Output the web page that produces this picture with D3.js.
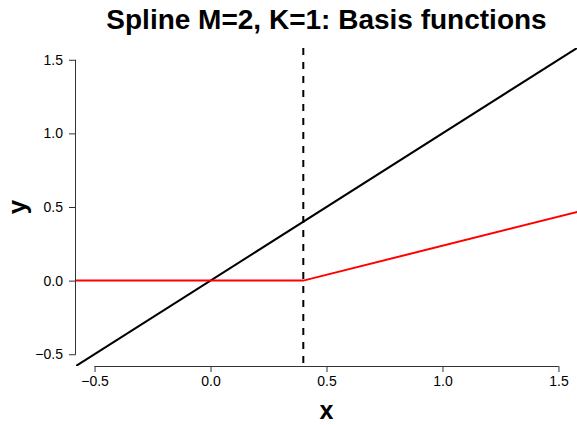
<!DOCTYPE html>
<html>
<head>
<meta charset="utf-8">
<script src="https://cdn.jsdelivr.net/npm/d3@7"></script>
<style>
  html, body { margin: 0; padding: 0; background: #fff; }
  svg { display: block; font-family: "Liberation Sans", Arial, Helvetica, sans-serif; }
</style>
</head>
<body>
<svg id="chart" width="577" height="425"></svg>
<script>
// ---- data ----
const titleText = "Spline M=2, K=1: Basis functions";
const xLabel = "x";
const yLabel = "y";
const knot = 0.4;
const xTicks = [-0.5, 0, 0.5, 1.0, 1.5];
const yTicks = [-0.5, 0, 0.5, 1.0, 1.5];
const blackX = [-0.6, 1.6];
const blackY = [-0.6, 1.6];
const redX = [-0.6, 0.4, 1.6];
const redY = [0, 0, 0.474];

// ---- layout ----
const svg = d3.select("#chart");
const plot = { left: 76, right: 577, top: 48, bottom: 366 };
const x = d3.scaleLinear().domain([-0.58, 1.58]).range([plot.left, plot.right]);
const y = d3.scaleLinear().domain([-0.58, 1.58]).range([plot.bottom, plot.top]);

svg.append("defs").append("clipPath").attr("id", "clip")
  .append("rect")
  .attr("x", plot.left).attr("y", plot.top)
  .attr("width", plot.right - plot.left).attr("height", plot.bottom - plot.top);

const fmt = d => (d < 0 ? "\u2212" : "") + Math.abs(d).toFixed(1);

// x axis
const xAxis = svg.append("g")
  .attr("transform", `translate(0,${plot.bottom})`)
  .call(d3.axisBottom(x).tickValues(xTicks).tickFormat(fmt).tickSize(6).tickSizeOuter(0).tickPadding(4));
xAxis.select(".domain").attr("d", `M${x(xTicks[0])},0.5H${x(xTicks[xTicks.length-1])}`);
xAxis.selectAll("line, path").attr("stroke", "#333").attr("stroke-width", 1);
xAxis.selectAll("text").attr("font-size", 14).attr("fill", "#000")
  .attr("font-family", "Liberation Sans, Arial, sans-serif");

// y axis
const yAxis = svg.append("g")
  .attr("transform", `translate(${plot.left},0)`)
  .call(d3.axisLeft(y).tickValues(yTicks).tickFormat(fmt).tickSize(7).tickSizeOuter(0).tickPadding(6));
yAxis.select(".domain").attr("d", `M-0.5,${y(yTicks[0])}V${y(yTicks[yTicks.length-1])}`);
yAxis.selectAll("line, path").attr("stroke", "#333").attr("stroke-width", 1);
yAxis.selectAll("text").attr("font-size", 14).attr("fill", "#000")
  .attr("font-family", "Liberation Sans, Arial, sans-serif");

const g = svg.append("g").attr("clip-path", "url(#clip)");
const line = d3.line().x(d => x(d[0])).y(d => y(d[1]));

// dashed knot line
g.append("line")
  .attr("x1", x(knot)).attr("x2", x(knot))
  .attr("y1", plot.top).attr("y2", plot.bottom + 1)
  .attr("stroke", "#000").attr("stroke-width", 2)
  .attr("stroke-dasharray", "7,7");

// black line
g.append("path").datum(d3.zip(blackX, blackY))
  .attr("d", line).attr("fill", "none").attr("stroke", "#000").attr("stroke-width", 2);

// red line
g.append("path").datum(d3.zip(redX, redY))
  .attr("d", line).attr("fill", "none").attr("stroke", "#ff0000").attr("stroke-width", 2);

// title
svg.append("text")
  .attr("x", (plot.left + plot.right) / 2).attr("y", 29)
  .attr("text-anchor", "middle").attr("font-weight", "bold").attr("font-size", 28)
  .text(titleText);

// axis labels
svg.append("text")
  .attr("x", (plot.left + plot.right) / 2).attr("y", 419)
  .attr("text-anchor", "middle").attr("font-weight", "bold").attr("font-size", 25)
  .text(xLabel);
svg.append("text")
  .attr("transform", `translate(26,${(plot.top + plot.bottom) / 2}) rotate(-90)`)
  .attr("text-anchor", "middle").attr("font-weight", "bold").attr("font-size", 26)
  .text(yLabel);
</script>
</body>
</html>
